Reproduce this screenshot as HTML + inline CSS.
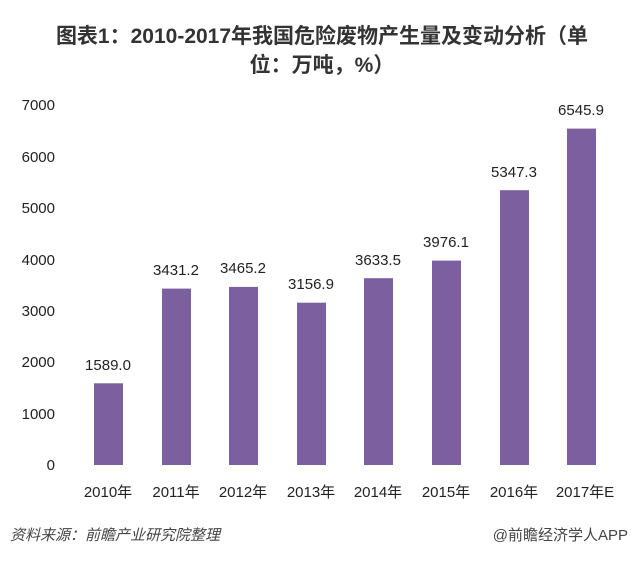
<!DOCTYPE html>
<html><head><meta charset="utf-8"><style>
body{margin:0;width:640px;height:561px;background:#fff;overflow:hidden;font-family:"Liberation Sans","Noto Sans CJK SC",sans-serif;}
</style></head><body>
<svg width="640" height="561" xmlns="http://www.w3.org/2000/svg" font-family="Liberation Sans, Noto Sans CJK SC, sans-serif">
<text x="322" y="43" text-anchor="middle" font-size="21" font-weight="bold" fill="#333">图表1：2010-2017年我国危险废物产生量及变动分析（单</text>
<text x="322" y="72" text-anchor="middle" font-size="21" font-weight="bold" fill="#333">位：万吨，%）</text>
<g font-size="15" fill="#222" text-anchor="end">
<text x="55" y="110">7000</text><text x="55" y="162">6000</text><text x="55" y="213">5000</text>
<text x="55" y="265">4000</text><text x="55" y="316">3000</text><text x="55" y="367">2000</text>
<text x="55" y="419">1000</text><text x="55" y="470">0</text>
</g>
<g fill="#7b5f9e">
<rect x="94" y="383.3" width="29" height="81.7"/>
<rect x="162" y="288.6" width="29" height="176.4"/>
<rect x="229" y="286.9" width="29" height="178.1"/>
<rect x="297" y="302.7" width="29" height="162.3"/>
<rect x="364" y="278.2" width="29" height="186.8"/>
<rect x="432" y="260.6" width="29" height="204.4"/>
<rect x="500" y="190.2" width="29" height="274.8"/>
<rect x="567" y="128.6" width="29" height="336.4"/>
</g>
<g font-size="15" fill="#222" text-anchor="middle">
<text x="108" y="370">1589.0</text><text x="176" y="275">3431.2</text><text x="243" y="273">3465.2</text>
<text x="311" y="289">3156.9</text><text x="378" y="265">3633.5</text><text x="446" y="247">3976.1</text>
<text x="514" y="177">5347.3</text><text x="581" y="115">6545.9</text>
</g>
<g font-size="15" fill="#222" text-anchor="middle">
<text x="108" y="497">2010年</text><text x="176" y="497">2011年</text><text x="243" y="497">2012年</text>
<text x="311" y="497">2013年</text><text x="378" y="497">2014年</text><text x="446" y="497">2015年</text>
<text x="514" y="497">2016年</text><text x="585" y="497">2017年E</text>
</g>
<text x="10" y="540" font-size="15" font-style="italic" fill="#444">资料来源：前瞻产业研究院整理</text>
<text x="628" y="540" font-size="15" fill="#444" text-anchor="end">@前瞻经济学人APP</text>
</svg>
</body></html>
